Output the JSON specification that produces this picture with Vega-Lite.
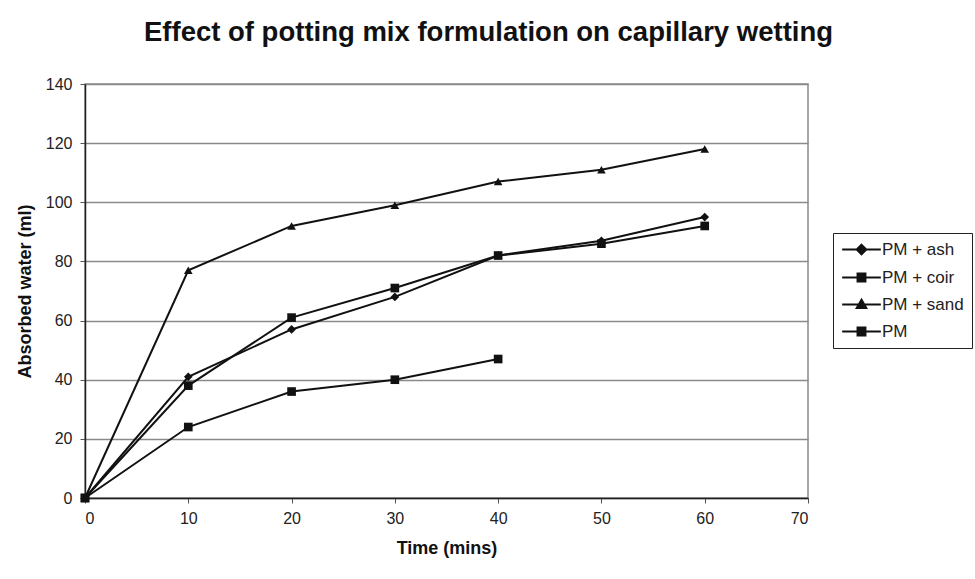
{
  "$schema": "https://vega.github.io/schema/vega-lite/v6.json",
  "width": 723,
  "height": 414,
  "autosize": {"type": "none"},
  "padding": {"left": 85, "top": 84, "right": 167, "bottom": 81},
  "background": "white",
  "title": {
    "text": "Effect of potting mix formulation on capillary wetting",
    "font": "Liberation Sans",
    "fontSize": 27.5,
    "fontWeight": "bold",
    "color": "#111",
    "anchor": "middle",
    "frame": "group",
    "dx": 42,
    "offset": 30
  },
  "config": {
    "view": {"stroke": "#8a8a8a", "strokeWidth": 1.5},
    "font": "Liberation Sans"
  },
  "data": {
    "values": [
      {"t": 0, "v": 0, "s": "PM + ash"},
      {"t": 10, "v": 41, "s": "PM + ash"},
      {"t": 20, "v": 57, "s": "PM + ash"},
      {"t": 30, "v": 68, "s": "PM + ash"},
      {"t": 40, "v": 82, "s": "PM + ash"},
      {"t": 50, "v": 87, "s": "PM + ash"},
      {"t": 60, "v": 95, "s": "PM + ash"},
      {"t": 0, "v": 0, "s": "PM + coir"},
      {"t": 10, "v": 38, "s": "PM + coir"},
      {"t": 20, "v": 61, "s": "PM + coir"},
      {"t": 30, "v": 71, "s": "PM + coir"},
      {"t": 40, "v": 82, "s": "PM + coir"},
      {"t": 50, "v": 86, "s": "PM + coir"},
      {"t": 60, "v": 92, "s": "PM + coir"},
      {"t": 0, "v": 0, "s": "PM + sand"},
      {"t": 10, "v": 77, "s": "PM + sand"},
      {"t": 20, "v": 92, "s": "PM + sand"},
      {"t": 30, "v": 99, "s": "PM + sand"},
      {"t": 40, "v": 107, "s": "PM + sand"},
      {"t": 50, "v": 111, "s": "PM + sand"},
      {"t": 60, "v": 118, "s": "PM + sand"},
      {"t": 0, "v": 0, "s": "PM"},
      {"t": 10, "v": 24, "s": "PM"},
      {"t": 20, "v": 36, "s": "PM"},
      {"t": 30, "v": 40, "s": "PM"},
      {"t": 40, "v": 47, "s": "PM"}
    ]
  },
  "encoding": {
    "x": {
      "field": "t",
      "type": "quantitative",
      "scale": {"domain": [0, 70], "nice": false},
      "axis": {
        "title": "Time (mins)",
        "values": [0, 10, 20, 30, 40, 50, 60, 70],
        "grid": false,
        "domainColor": "#222",
        "domainWidth": 1.5,
        "tickColor": "#555",
        "tickSize": 5,
        "labelPadding": 7,
        "labelFont": "Liberation Sans",
        "labelFontSize": 16,
        "labelColor": "#222",
        "titleFont": "Liberation Sans",
        "titleFontSize": 18,
        "titleFontWeight": "bold",
        "titleColor": "#111",
        "titlePadding": 13
      }
    },
    "y": {
      "field": "v",
      "type": "quantitative",
      "scale": {"domain": [0, 140], "nice": false},
      "axis": {
        "title": "Absorbed water (ml)",
        "values": [0, 20, 40, 60, 80, 100, 120, 140],
        "grid": true,
        "gridColor": "#8a8a8a",
        "gridWidth": 1.5,
        "domainColor": "#222",
        "domainWidth": 1.5,
        "tickColor": "#555",
        "tickSize": 5,
        "labelPadding": 8,
        "labelFont": "Liberation Sans",
        "labelFontSize": 16,
        "labelColor": "#222",
        "titleFont": "Liberation Sans",
        "titleFontSize": 18,
        "titleFontWeight": "bold",
        "titleColor": "#111",
        "titlePadding": 11
      }
    }
  },
  "layer": [
    {
      "mark": {"type": "line", "color": "#111", "strokeWidth": 2},
      "encoding": {"detail": {"field": "s"}}
    },
    {
      "mark": {"type": "point", "filled": true, "color": "#111", "opacity": 1, "size": 75},
      "encoding": {
        "shape": {
          "field": "s",
          "type": "nominal",
          "scale": {
            "domain": ["PM + ash", "PM + coir", "PM + sand", "PM"],
            "range": ["diamond", "square", "triangle-up", "square"]
          },
          "legend": null
        }
      }
    },
    {
      "mark": {"type": "point", "filled": false, "color": "#111", "opacity": 0, "size": 81},
      "encoding": {
        "shape": {
          "field": "s",
          "type": "nominal",
          "scale": {
            "domain": ["PM + ash", "PM + coir", "PM + sand", "PM"],
            "range": [
              "M-4.3,0H4.3M0,-1.1L1.1,0L0,1.1L-1.1,0ZM0,-0.7L0.7,0L0,0.7L-0.7,0ZM0,-0.3L0.3,0L0,0.3L-0.3,0Z",
              "M-4.3,0H4.3M-0.9,-0.9H0.9V0.9H-0.9ZM-0.5,-0.5H0.5V0.5H-0.5ZM-0.1,-0.1H0.1V0.1H-0.1Z",
              "M-4.3,0H4.3M0,-1.1L1.1,0.8L-1.1,0.8ZM0,-0.593L0.66,0.547L-0.66,0.547ZM0,-0.15L0.275,0.325L-0.275,0.325Z",
              "M-4.3,0H4.3M-0.9,-0.9H0.9V0.9H-0.9ZM-0.5,-0.5H0.5V0.5H-0.5ZM-0.1,-0.1H0.1V0.1H-0.1Z"
            ]
          },
          "legend": {
            "title": null,
            "orient": "none",
            "legendX": 748,
            "legendY": 149,
            "strokeColor": "#222",
            "padding": 8,
            "symbolSize": 81,
            "symbolOpacity": 1,
            "symbolStrokeColor": "#111",
            "symbolStrokeWidth": 1.8,
            "symbolOffset": 12,
            "labelFont": "Liberation Sans",
            "labelFontSize": 17,
            "labelColor": "#222",
            "labelOffset": 12,
            "rowPadding": 9,
            "encode": {
              "symbols": {
                "update": {
                  "stroke": {"value": "#111"},
                  "strokeWidth": {"value": 1.8},
                  "opacity": {"value": 1}
                }
              }
            }
          }
        }
      }
    }
  ],
  "resolve": {"scale": {"shape": "independent"}, "legend": {"shape": "independent"}}
}
